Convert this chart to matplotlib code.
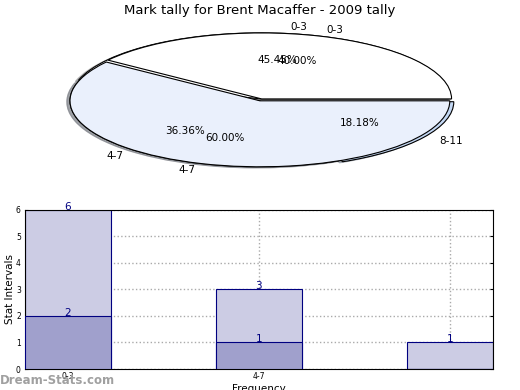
import matplotlib
matplotlib.use("Agg")
import matplotlib.pyplot as plt

title = "Mark tally for Brent Macaffer - 2009 tally"
pie1_labels = ["0-3", "4-7", "8-11"]
pie1_values = [5, 4, 2]
pie2_labels = ["0-3", "4-7"]
pie2_values = [2, 3]

bar_categories = ["0-3", "4-7", "8-11"]
bar_tick_labels = ["0-3", "4-7", ""]
bar_light = [6, 3, 1]
bar_dark = [2, 1, 0]

fig = plt.figure(figsize=(5.2, 3.9), dpi=100)

# Pie area
axp = fig.add_axes([0.0433, 0.530, 0.913, 0.423])
pie1_colors = ["#ffffff", "#eaf0fc", "#c4d8f4"]
pie2_colors = ["#ffffff", "#eaf0fc"]
wp = dict(edgecolor="black", linewidth=0.8)
shadow = dict(ox=-0.012, oy=-0.012, shade=0.45)
axp.pie(pie1_values, labels=pie1_labels, colors=pie1_colors, autopct="%.2f%%",
        startangle=0, counterclock=True, explode=[0.03, 0.0, 0.025], shadow=shadow,
        wedgeprops=wp, textprops=dict(fontsize=7.5), labeldistance=1.1, pctdistance=0.6)
axp.pie(pie2_values, labels=pie2_labels, colors=pie2_colors, autopct="%.2f%%",
        startangle=0, counterclock=True, explode=[0.03, 0.0], shadow=shadow,
        wedgeprops=wp, textprops=dict(fontsize=7.5), labeldistance=1.1, pctdistance=0.6)
axp.set_aspect("auto")
axp.set_xlim(-1.25, 1.25)
axp.set_ylim(-1.25, 1.25)
fig.text(0.5, 0.972, title, ha="center", va="center", fontsize=9.5)

# Bar area
axb = fig.add_axes([0.048, 0.0538, 0.9, 0.408])
x = list(range(len(bar_categories)))
axb.bar(x, bar_light, width=0.45, color="#ccccE4", edgecolor="#000080", linewidth=0.8, zorder=2)
axb.bar(x, bar_dark, width=0.45, color="#a0a0cc", edgecolor="#000080", linewidth=0.8, zorder=3)
for xi, v in zip(x, bar_light):
    axb.text(xi, v + 0.12, str(v), ha="center", va="center", color="#000080", fontsize=7.5, zorder=5)
for xi, v in zip(x, bar_dark):
    if v > 0:
        axb.text(xi, v + 0.12, str(v), ha="center", va="center", color="#000080", fontsize=7.5, zorder=5)
axb.set_xlim(-0.225, 2.225)
axb.set_ylim(0, 6)
axb.set_xticks(x)
axb.set_xticklabels(bar_tick_labels, fontsize=5.5)
axb.set_yticks(range(0, 7))
axb.tick_params(axis="y", labelsize=5.5, direction="in", length=2, right=True, pad=3)
axb.tick_params(axis="x", direction="in", length=2, pad=2)
axb.grid(True, linestyle=":", color="#aaaaaa", linewidth=1.0, zorder=0)
axb.set_axisbelow(True)
axb.set_ylabel("Stat Intervals", fontsize=7.5, labelpad=1)
axb.set_xlabel("Frequency", fontsize=7.5, labelpad=2)

fig.text(0.0, 0.025, "Dream-Stats.com", ha="left", va="center", fontsize=8.5,
         color="#a0a0a0", fontweight="bold")

fig.savefig("out.png", dpi=100)
